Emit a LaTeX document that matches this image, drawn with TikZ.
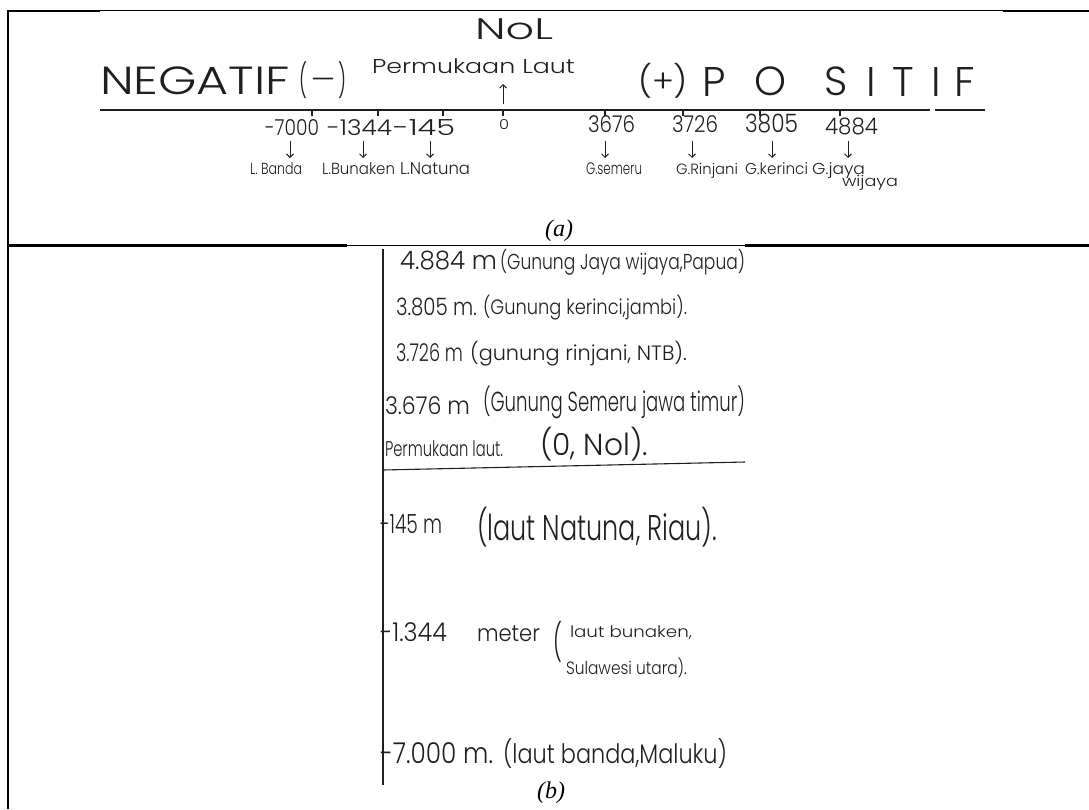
\documentclass[tikz,border=0pt]{standalone}
\usepackage{fontspec}
\usepackage{graphicx}
\usetikzlibrary{arrows.meta}
\IfFontExistsTF{Poppins Light}{\newfontfamily\hand{Poppins Light}}{\newfontfamily\hand{Poppins}}
\newfontfamily\capfont{Liberation Serif}
\definecolor{ink}{gray}{0.12}
\newcommand\hw[3]{\resizebox*{#1pt}{#2pt}{\hand #3}}
\newcommand\hh[2]{\resizebox*{!}{#1pt}{\hand #2}}
\begin{document}
\begin{tikzpicture}[x=1pt,y=-1pt,
  txt/.style={anchor=west,inner sep=0pt,outer sep=0pt,text=ink},
  ctxt/.style={anchor=center,inner sep=0pt,outer sep=0pt,text=ink},
  frame/.style={line width=2.6pt,black},
  thinframe/.style={line width=1.3pt,black},
  handline/.style={line width=1.1pt,ink},
  harrow/.style={line width=0.9pt,ink,-{Straight Barb[length=3.5pt,width=7pt]}},
  captxt/.style={inner sep=0pt,font=\capfont\itshape\fontsize{24}{24}\selectfont}]
\useasboundingbox (0,0) rectangle (1089,809);
% frame
\draw[frame] (7,11) -- (100,11);
\draw[thinframe] (100,10.8) -- (1003,10.8);
\draw[frame] (1003,11) -- (1089,11);
\draw[frame] (7.8,10) -- (7.8,809);
\draw[frame] (7,245.7) -- (347,245.7);
\draw[thinframe] (347,245.5) -- (745,245.5);
\draw[frame] (745,245.7) -- (1089,245.7);
% ---------------- (a)
\node[txt] (nol) at (475,29) {\hw{78}{21}{NoL}};
\node[txt] (neg) at (100,81) {\hw{190}{28}{NEGATIF}};
\node[txt] (negl) at (299,80.5) {\hw{8}{37}{(}};
\node[ctxt] (negd) at (323,84) {\resizebox{24pt}{!}{\hand —}};
\node[txt] (negr) at (338,80.5) {\hw{8}{37}{)}};
\node[txt] (perm) at (372,66) {\hw{203}{15}{Permukaan Laut}};
\node[txt] (poss) at (638,80.5) {\hw{50}{35}{(+)}};
\node[ctxt] (p1) at (714,81.5) {\hh{29}{P}};
\node[ctxt] (p2) at (770,81.5) {\hh{29}{O}};
\node[ctxt] (p3) at (836,81.5) {\hh{29}{S}};
\node[ctxt] (p4) at (871,81.5) {\hh{29}{I}};
\node[ctxt] (p5) at (903,81.5) {\hh{29}{T}};
\node[ctxt] (p6) at (936,81.5) {\hh{29}{I}};
\node[ctxt] (p7) at (965,81.5) {\hh{29}{F}};
% axis
\coordinate (ax0) at (100,110);
\coordinate (ax1) at (930,110);
\coordinate (ax2) at (935,110);
\coordinate (ax3) at (985,110);
\draw[handline] (ax0) -- (ax1);
\draw[handline] (ax2) -- (ax3);
\foreach \t in {312,378,443,503,605,683,760,840}
  \draw[handline] (\t,109) -- (\t,116);
\coordinate (upA) at (503,104);
\coordinate (upB) at (503,84);
\draw[harrow] (upA) -- (upB);
% numbers
\node[txt] (n1) at (265,128) {\hw{54}{16}{-7000}};
\node[txt] (n2) at (327,128) {\hw{65}{16}{-1344}};
\node[txt] (n3) at (393,128) {\hw{62}{16}{-145}};
\node[txt] (n0) at (499,125) {\hw{10}{10}{0}};
\node[txt] (n4) at (588,124) {\hw{47}{17}{3676}};
\node[txt] (n5) at (672,124) {\hw{46}{17}{3726}};
\node[txt] (n6) at (745,124) {\hw{53}{19}{3805}};
\node[txt] (n7) at (825,126) {\hw{53}{17}{4884}};
% labels
\node[txt] (l1) at (250,169) {\hw{52}{12}{L. Banda}};
\node[txt] (l2) at (322,169) {\hw{73}{12}{L.Bunaken}};
\node[txt] (l3) at (400,169) {\hw{70}{12}{L.Natuna}};
\node[txt] (l4) at (586,169) {\hw{56}{12}{G.semeru}};
\node[txt] (l5) at (676,170.5) {\hw{62}{15}{G.Rinjani}};
\node[txt] (l6) at (745,169) {\hw{63}{12}{G.kerinci}};
\node[txt] (l7) at (812,171) {\hw{53}{16}{G.jaya}};
\node[txt] (l8) at (842,183) {\hw{56}{15}{wijaya}};
% down arrows
\foreach \i/\x in {1/290,2/363,3/430,4/605,5/692,6/772,7/848}{
  \coordinate (d\i s) at (\x,141);
  \coordinate (d\i e) at (\x,158);
  \draw[harrow] (d\i s) -- (d\i e);
}
\node[captxt] (capa) at (559,231) {(a)};
% ---------------- (b)
\coordinate (vb0) at (383,249);
\coordinate (vb1) at (383,785);
\draw[handline] (vb0) -- (vb1);
\coordinate (hb0) at (383,470);
\coordinate (hb1) at (745,462);
\draw[handline] (hb0) -- (hb1);
\node[txt] (b1a) at (400,261) {\hw{97}{19}{4.884 m}};
\node[txt] (b1b) at (500,262) {\hw{245}{26}{(Gunung Jaya wijaya,Papua)}};
\node[txt] (b2a) at (396,307) {\hw{81}{18}{3.805 m.}};
\node[txt] (b2b) at (483,307.5) {\hw{204}{25}{(Gunung kerinci,jambi).}};
\node[txt] (b3a) at (396,353) {\hw{67}{18}{3.726 m}};
\node[txt] (b3b) at (470,354) {\hw{217}{25}{(gunung rinjani, NTB).}};
\node[txt] (b4a) at (385,406) {\hw{85}{18}{3.676 m}};
\node[txt] (b4b) at (483,402) {\hw{262}{33}{(Gunung Semeru jawa timur)}};
\node[txt] (b5a) at (385,449) {\hw{118}{16}{Permukaan laut.}};
\node[txt] (b5b) at (540,444) {\hw{108}{34}{(0, Nol).}};
\node[txt] (b6a) at (380,524.5) {\hw{62}{19}{-145 m}};
\node[txt] (b6b) at (477,527) {\hw{240}{40}{(laut Natuna, Riau).}};
\node[txt] (b7a) at (380,632.5) {\hw{67}{19}{-1.344}};
\node[txt] (b7b) at (477,634) {\hw{63}{16}{meter}};
\node[txt] (b7c) at (553,641.5) {\hw{9}{41}{(}};
\node[txt] (b7d) at (570,633) {\hw{122}{14}{laut bunaken,}};
\node[txt] (b7e) at (566,668) {\hw{121}{20}{Sulawesi utara).}};
\node[txt] (b8a) at (380,753.5) {\hw{113}{21}{-7.000 m.}};
\node[txt] (b8b) at (503,753) {\hw{224}{30}{(laut banda,Maluku)}};
\node[captxt] (capb) at (551,793) {(b)};
\end{tikzpicture}
\end{document}
